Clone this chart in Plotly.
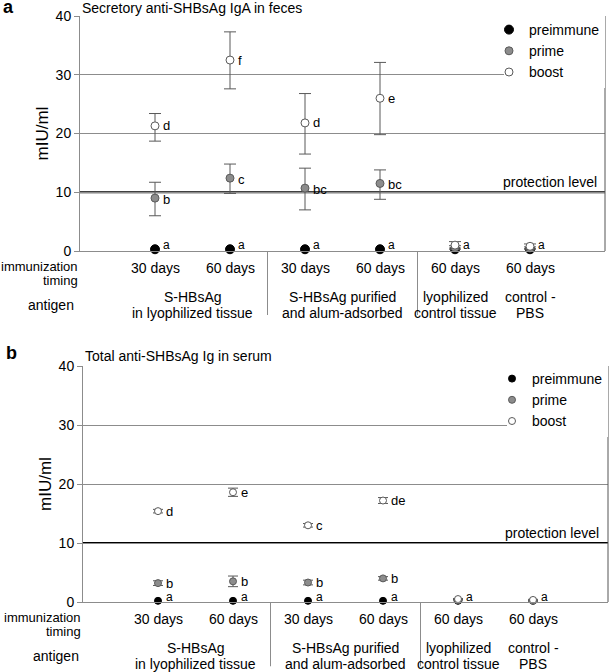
import plotly.graph_objects as go

# categories along the x axis
positions = [1, 2, 3, 4, 5, 6]
timing = ["30 days", "60 days", "30 days", "60 days", "60 days", "60 days"]
antigens = ["S-HBsAg<br>in lyophilized tissue", "S-HBsAg purified<br>and alum-adsorbed",
            "lyophilized<br>control tissue", "control -<br>PBS"]
antigen_pos = [1.5, 3.5, 5, 6]
separators = [2.5, 4.5]
series_names = ["preimmune", "prime", "boost"]

# panel a - secretory anti-SHBsAg IgA in feces (mIU/ml)
feces_pre = [0.3, 0.3, 0.3, 0.3, 0.3, 0.3]
feces_prime = [9.0, 12.4, 10.7, 11.5, 0.6, 0.5]
feces_prime_up = [2.7, 2.4, 3.4, 2.3, 0.3, 0.2]
feces_prime_dn = [3.0, 2.6, 3.7, 2.7, 0.3, 0.2]
feces_boost = [21.3, 32.5, 21.8, 26.0, 1.0, 0.8]
feces_boost_up = [2.1, 4.8, 5.0, 6.1, 0.6, 0.4]
feces_boost_dn = [2.6, 4.9, 5.3, 6.2, 0.5, 0.4]
feces_pre_letters = ["a", "a", "a", "a", "a", "a"]
feces_prime_letters = ["b", "c", "bc", "bc", "", ""]
feces_boost_letters = ["d", "f", "d", "e", "", ""]

# panel b - total anti-SHBsAg Ig in serum (mIU/ml)
serum_pre = [0.2, 0.2, 0.2, 0.2, 0.2, 0.2]
serum_prime = [3.2, 3.5, 3.3, 4.0, 0.3, 0.2]
serum_prime_err = [0.4, 0.9, 0.4, 0.3, 0.1, 0.1]
serum_boost = [15.4, 18.6, 13.0, 17.2, 0.5, 0.35]
serum_boost_err = [0.3, 0.7, 0.3, 0.5, 0.1, 0.1]
serum_pre_letters = ["a", "a", "a", "a", "a", "a"]
serum_prime_letters = ["b", "b", "b", "b", "", ""]
serum_boost_letters = ["d", "e", "c", "de", "", ""]

protection = 10
x_range = [0, 7]
FONT = "Arial, Liberation Sans, sans-serif"
GRID = "#8c8c8c"
ERR = "#595959"

fig = go.Figure()


def add_series(xa, ya, legend, y, up, dn, name, fill, line, size, cap):
    err = None
    if up is not None:
        err = dict(type="data", array=up, arrayminus=dn, color=ERR, thickness=1, width=cap)
    fig.add_trace(go.Scatter(
        x=positions, y=y, mode="markers", name=name, xaxis=xa, yaxis=ya, legend=legend,
        marker=dict(color=fill, size=size, line=dict(color=line, width=1)),
        error_y=err, cliponaxis=False))


def add_letters(xa, ya, y, letters, size, dy):
    for x, v, t in zip(positions, y, letters):
        if t:
            fig.add_annotation(x=x, y=v, xref=xa, yref=ya, text=t, showarrow=False,
                               xanchor="left", yanchor="middle", xshift=6, yshift=dy,
                               font=dict(size=size))


# panel a
add_series("x", "y", "legend", feces_pre, None, None, series_names[0], "black", "black", 9, 0)
add_series("x", "y", "legend", feces_prime, feces_prime_up, feces_prime_dn, series_names[1],
           "#8c8c8c", "#5a5a5a", 8, 6)
add_series("x", "y", "legend", feces_boost, feces_boost_up, feces_boost_dn, series_names[2],
           "white", "#5a5a5a", 8, 6)
add_letters("x", "y", feces_pre, feces_pre_letters, 12, 4)
add_letters("x", "y", feces_prime, feces_prime_letters, 13, -1)
add_letters("x", "y", feces_boost, feces_boost_letters, 13, 0)

# panel b
add_series("x2", "y2", "legend2", serum_pre, None, None, series_names[0], "black", "black", 7, 0)
add_series("x2", "y2", "legend2", serum_prime, serum_prime_err, serum_prime_err, series_names[1],
           "#8c8c8c", "#5a5a5a", 7, 5)
add_series("x2", "y2", "legend2", serum_boost, serum_boost_err, serum_boost_err, series_names[2],
           "white", "#5a5a5a", 7, 5)
add_letters("x2", "y2", serum_pre, serum_pre_letters, 12, 4)
add_letters("x2", "y2", serum_prime, serum_prime_letters, 13, 0)
add_letters("x2", "y2", serum_boost, serum_boost_letters, 13, 0)

# (xaxis, yaxis, panel letter, title, title shift, letter shift, antigen shift, protection shift)
panels = [("x", "y", "a", "Secretory anti-SHBsAg IgA in feces", -2, -3, -4, -6),
          ("x2", "y2", "b", "Total anti-SHBsAg Ig in serum", 0, 1, -2, -7)]
for xa, ya, letter, title, tshift, lshift, ant_shift, prot_shift in panels:
    xd, yd = xa + " domain", ya + " domain"
    fig.add_annotation(x=0, y=1, xref=xd, yref=yd, text=title, showarrow=False,
                       xanchor="left", yanchor="bottom", yshift=tshift, xshift=0)
    fig.add_annotation(x=-80 / 525, y=1, xref=xd, yref=yd, text="<b>" + letter + "</b>",
                       showarrow=False, xanchor="left", yanchor="bottom", xshift=1,
                       yshift=lshift, font=dict(size=18))
    # protection level
    fig.add_shape(type="line", xref=xd, yref=ya, x0=0, x1=1, y0=protection, y1=protection,
                  line=dict(color="black", width=2), layer="below")
    fig.add_annotation(x=1, y=protection, xref=xd, yref=ya, text="protection level",
                       showarrow=False, xanchor="right", yanchor="bottom", xshift=prot_shift)
    # right border
    fig.add_shape(type="line", xref=xd, yref=yd, x0=1, x1=1, y0=0, y1=1,
                  line=dict(color="#555555", width=1))
    # group separators below the axis
    for s in separators:
        fx = (s - x_range[0]) / (x_range[1] - x_range[0])
        fig.add_shape(type="line", xref=xd, yref=yd, x0=fx, x1=fx, y0=0, y1=-64 / 235,
                      line=dict(color=GRID, width=1))
    # row labels
    fig.add_annotation(x=0, y=0, xref=xd, yref=yd, text="immunization", showarrow=False,
                       xanchor="right", yanchor="middle", yshift=-15, font=dict(size=13))
    fig.add_annotation(x=0, y=0, xref=xd, yref=yd, text="timing", showarrow=False,
                       xanchor="right", yanchor="middle", yshift=-29, font=dict(size=13))
    fig.add_annotation(x=0, y=0, xref=xd, yref=yd, text="antigen", showarrow=False,
                       xanchor="right", yanchor="middle", yshift=-54, xshift=ant_shift)
    for x, t in zip(positions, timing):
        fig.add_annotation(x=x, y=0, xref=xa, yref=yd, text=t, showarrow=False,
                           yanchor="middle", yshift=-17)
    for x, t in zip(antigen_pos, antigens):
        for i, line in enumerate(t.split("<br>")):
            fig.add_annotation(x=x, y=0, xref=xa, yref=yd, text=line, showarrow=False,
                               yanchor="middle", yshift=-46 - 16 * i)

yaxis_style = dict(range=[0, 40], dtick=10, showgrid=True, gridcolor=GRID, gridwidth=1,
                   showline=True, linecolor=GRID, ticks="outside", ticklen=5, tickcolor=GRID,
                   zeroline=False, title=dict(text="mIU/ml", standoff=2),
                   tickfont=dict(size=14), automargin=False)
xaxis_style = dict(range=x_range, showgrid=False, showline=True, linecolor=GRID,
                   showticklabels=False, ticks="", zeroline=False, automargin=False)

legend_style = dict(xanchor="right", yanchor="top", bgcolor="white", borderwidth=0,
                    font=dict(size=14), tracegroupgap=0, itemsizing="trace", indentation=-15)

fig.update_layout(
    width=609, height=672,
    margin=dict(l=80, r=1, t=16, b=70),
    plot_bgcolor="white", paper_bgcolor="white",
    font=dict(family=FONT, size=14, color="black"),
    hovermode=False,
    xaxis=dict(domain=[0, 525 / 528], anchor="y", **xaxis_style),
    yaxis=dict(domain=[351 / 586, 1], anchor="x", **yaxis_style),
    xaxis2=dict(domain=[3 / 528, 1], anchor="y2", **xaxis_style),
    yaxis2=dict(domain=[0, 236 / 586], anchor="x2", **yaxis_style),
    legend=dict(x=525 / 528, y=1 + 2 / 586, **legend_style),
    legend2=dict(x=1, y=239 / 586, **legend_style),
)

# the page body has a default 8px margin; drop it so the figure sits at the corner
fig.write_html("out.html", config={"displayModeBar": False},
               post_script="document.body.style.margin = '0px';")
